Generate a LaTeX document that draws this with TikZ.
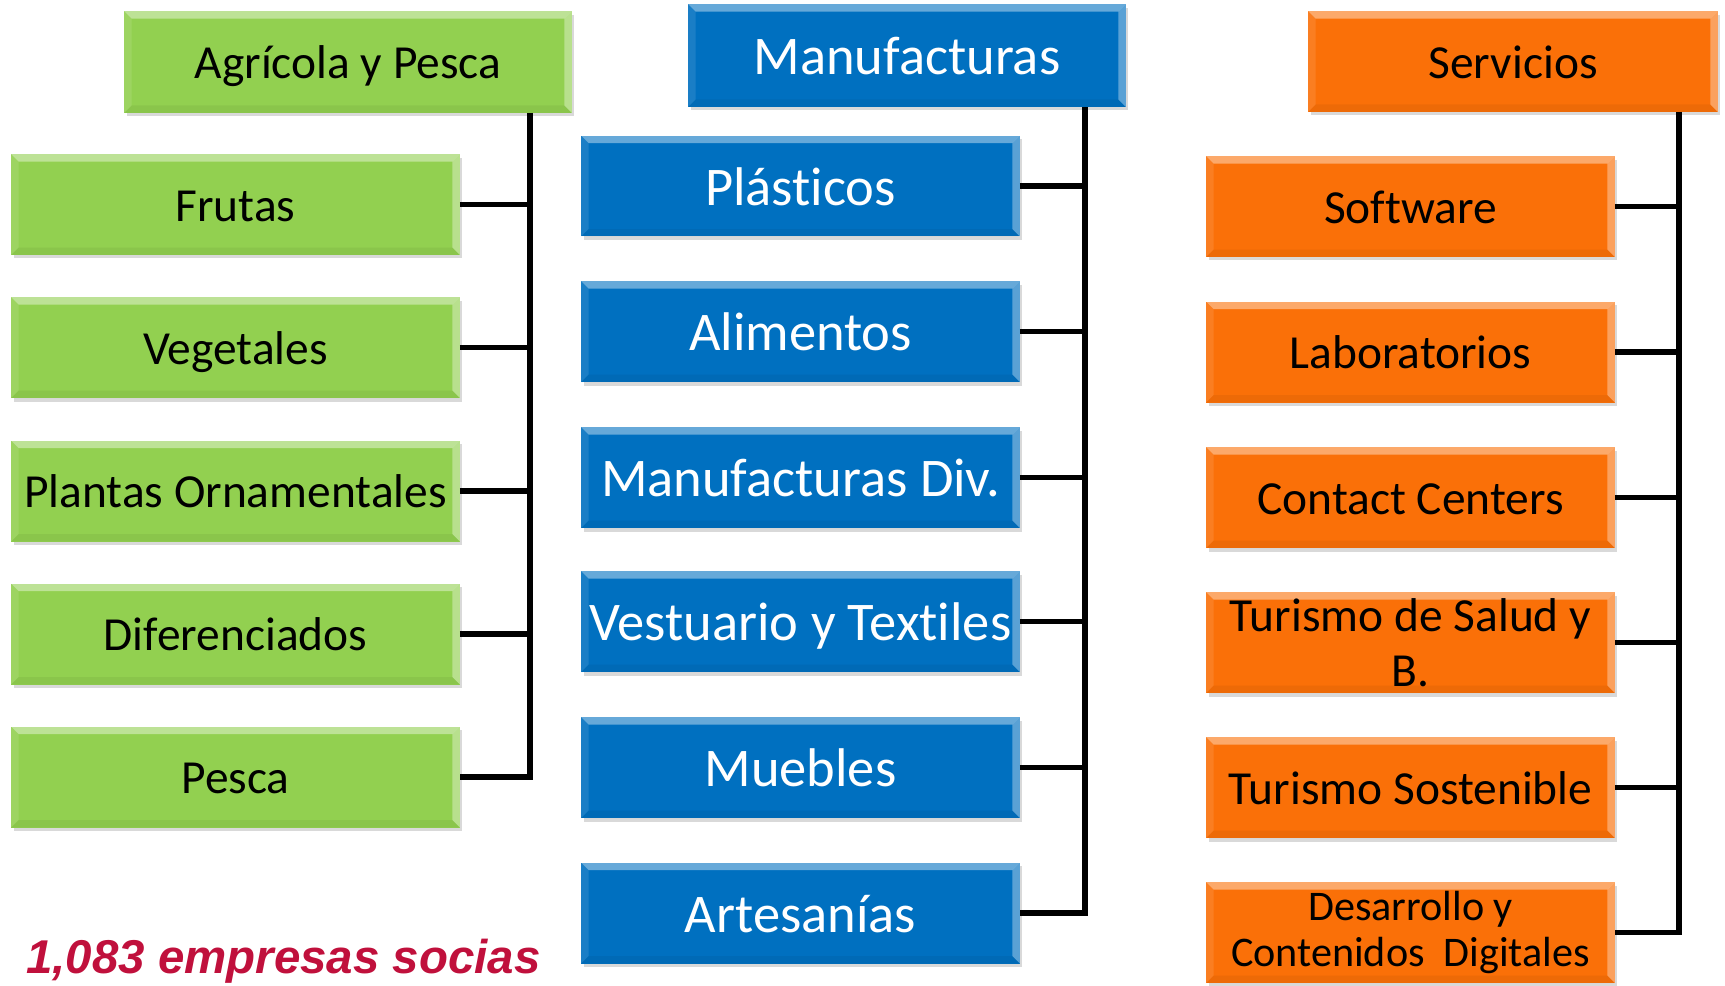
\documentclass[tikz,border=0pt]{standalone}
\usepackage{fontspec}
\setmainfont{Carlito}[Ligatures=CommonOff]
\newfontfamily\arialfont{Liberation Sans}
\usetikzlibrary{shadows}
\definecolor{agverde}{RGB}{146,208,80}
\definecolor{manazul}{RGB}{0,112,192}
\definecolor{sernaranja}{RGB}{250,112,8}
\definecolor{sociasrojo}{RGB}{192,16,60}

\begin{document}
\begin{tikzpicture}[x=0.02cm, y=-0.02cm,
    caja/.style={rectangle, inner sep=0pt, outer sep=0pt, align=center,
                 drop shadow={opacity=0.3, shadow xshift=0.05cm, shadow yshift=-0.07cm},
                 path picture={
                   \fill[white, opacity=0.4] (path picture bounding box.north west) -- (path picture bounding box.north east)
                        -- ([shift={(-0.15cm,-0.15cm)}]path picture bounding box.north east) -- ([shift={(0.15cm,-0.15cm)}]path picture bounding box.north west) -- cycle;
                   \fill[white, opacity=0.35] (path picture bounding box.north east) -- (path picture bounding box.south east)
                        -- ([shift={(-0.15cm,0.15cm)}]path picture bounding box.south east) -- ([shift={(-0.15cm,-0.15cm)}]path picture bounding box.north east) -- cycle;
                   \fill[white, opacity=0.1] (path picture bounding box.south west) -- (path picture bounding box.north west)
                        -- ([shift={(0.15cm,-0.15cm)}]path picture bounding box.north west) -- ([shift={(0.15cm,0.15cm)}]path picture bounding box.south west) -- cycle;
                   \fill[black, opacity=0.05] (path picture bounding box.south east) -- (path picture bounding box.south west)
                        -- ([shift={(0.15cm,0.15cm)}]path picture bounding box.south west) -- ([shift={(-0.15cm,0.15cm)}]path picture bounding box.south east) -- cycle;
                 }},
    una/.style={text height=21.6pt, text depth=2.7pt},
    unaazul/.style={text height=24.8pt, text depth=3.1pt},
    verde/.style={caja, fill=agverde, text=black, font=\fontsize{27}{31}\selectfont},
    azul/.style={caja, fill=manazul, text=white, font=\fontsize{31}{35}\selectfont},
    naranja/.style={caja, fill=sernaranja, text=black, font=\fontsize{27}{31}\selectfont},
    hijoverde/.style={verde, una, minimum width=8.98cm, minimum height=2.02cm},
    hijoazul/.style={azul, unaazul, minimum width=8.78cm, minimum height=2.02cm},
    hijonaranja/.style={naranja, minimum width=8.18cm, minimum height=2.02cm},
    bus/.style={line width=3.1pt}
    ]
\useasboundingbox (0,0) rectangle (1725,985);

% Agricola y Pesca
\node[verde, una, minimum width=8.96cm, minimum height=2.04cm] (agro) at (348,62) {Agrícola y Pesca};
\node[hijoverde] (frutas)    at (235.5,204.5) {Frutas};
\node[hijoverde] (vegetales) at (235.5,347.5) {Vegetales};
\node[hijoverde] (plantas)   at (235.5,491)   {Plantas Ornamentales};
\node[hijoverde] (difer)     at (235.5,634)   {Diferenciados};
\node[hijoverde] (pesca)     at (235.5,777)   {Pesca};

% Manufacturas
\node[azul, unaazul, minimum width=8.76cm, minimum height=2.06cm] (manuf) at (907,55.5) {Manufacturas};
\node[hijoazul] (plasticos) at (800.5,186)   {Plásticos};
\node[hijoazul] (alimentos) at (800.5,331.5) {Alimentos};
\node[hijoazul] (mandiv)    at (800.5,477.5) {Manufacturas Div.};
\node[hijoazul] (vestuario) at (800.5,621.5) {Vestuario y Textiles};
\node[hijoazul] (muebles)   at (800.5,767.5) {Muebles};
\node[hijoazul] (artes)     at (800.5,913)   {Artesanías};

% Servicios
\node[naranja, una, minimum width=8.2cm, minimum height=2.02cm] (servi) at (1513,61.5) {Servicios};
\node[hijonaranja, una] (software) at (1410.5,206.5) {Software};
\node[hijonaranja, una] (labs)     at (1410.5,352)   {Laboratorios};
\node[hijonaranja, una] (contact)  at (1410.5,497.5) {Contact Centers};
\node[hijonaranja] (salud)    at (1410.5,642.5) {Turismo de Salud y\\B.};
\node[hijonaranja, una] (sosten)   at (1410.5,787.5) {Turismo Sostenible};
\node[hijonaranja, font=\fontsize{24}{26}\selectfont] (digital) at (1410.5,932.5) {Desarrollo y\\Contenidos~~Digitales};

% lineas
\coordinate (agbus) at ([xshift=-0.84cm]agro.south east);
\draw[bus] (agbus) -- (agbus |- pesca.east) -- (pesca.east);
\foreach \n in {frutas,vegetales,plantas,difer}
  \draw[bus] (\n.east) -- (\n.east -| agbus);

\coordinate (manbus) at ([xshift=-0.82cm]manuf.south east);
\draw[bus] (manbus) -- (manbus |- artes.east) -- (artes.east);
\foreach \n in {plasticos,alimentos,mandiv,vestuario,muebles}
  \draw[bus] (\n.east) -- (\n.east -| manbus);

\coordinate (serbus) at ([xshift=-0.78cm]servi.south east);
\draw[bus] (serbus) -- (serbus |- digital.east) -- (digital.east);
\foreach \n in {software,labs,contact,salud,sosten}
  \draw[bus] (\n.east) -- (\n.east -| serbus);

\node[anchor=base west, text=sociasrojo, font=\arialfont\bfseries\itshape\fontsize{27}{31}\selectfont] (socias) at (20,973) {1,083 empresas socias};
\end{tikzpicture}
\end{document}
